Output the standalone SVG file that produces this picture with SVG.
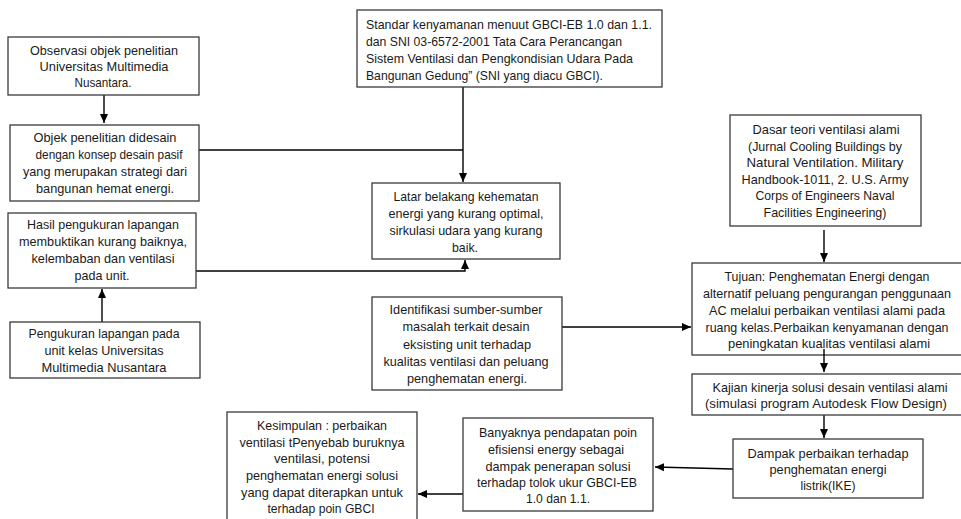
<svg xmlns="http://www.w3.org/2000/svg" width="961" height="519" viewBox="0 0 961 519">
<defs>
<style>
.box{fill:#fff;stroke:#3a3a3a;stroke-width:1.3}
.t{font-family:"Liberation Sans",Arial,sans-serif;font-size:13px;fill:#1a1a1a;text-anchor:middle}
.tl{font-family:"Liberation Sans",Arial,sans-serif;font-size:13px;fill:#1a1a1a;text-anchor:start}
.c{fill:none;stroke:#000;stroke-width:1.4}
</style>
<marker id="ah" markerUnits="userSpaceOnUse" markerWidth="10" markerHeight="10" viewBox="0 0 10 10" refX="9" refY="5" orient="auto">
<path d="M0,1 L9,5 L0,9 Z" fill="#000"/>
</marker>
</defs>
<rect width="961" height="519" fill="#fff"/>

<g id="connectors">
<path class="c" d="M104,95 V123" marker-end="url(#ah)"/>
<path class="c" d="M463,87 V182" marker-end="url(#ah)"/>
<path class="c" d="M199,150 H463"/>
<path class="c" d="M196,271 H465 V260" marker-end="url(#ah)"/>
<path class="c" d="M102,322 V289" marker-end="url(#ah)"/>
<path class="c" d="M562,327 H691" marker-end="url(#ah)"/>
<path class="c" d="M824,230 V262" marker-end="url(#ah)"/>
<path class="c" d="M824,415 V438" marker-end="url(#ah)"/>
<path class="c" d="M733,469 L655,467" marker-end="url(#ah)"/>
<path class="c" d="M463,494 H418" marker-end="url(#ah)"/>
</g>

<g id="n-observasi">
<rect class="box" x="8" y="37" width="191" height="58"/>
<text class="t" x="104" y="55" textLength="148" lengthAdjust="spacingAndGlyphs">Observasi objek penelitian</text>
<text class="t" x="104" y="71" textLength="129" lengthAdjust="spacingAndGlyphs">Universitas Multimedia</text>
<text class="t" x="103" y="87" textLength="57" lengthAdjust="spacingAndGlyphs">Nusantara.</text>
</g>

<g id="n-objek">
<rect class="box" x="10" y="125" width="189" height="76"/>
<text class="t" x="105" y="142" textLength="143" lengthAdjust="spacingAndGlyphs">Objek penelitian didesain</text>
<text class="t" x="109" y="159" textLength="147" lengthAdjust="spacingAndGlyphs">dengan konsep desain pasif</text>
<text class="t" x="105" y="176" textLength="164" lengthAdjust="spacingAndGlyphs">yang merupakan strategi dari</text>
<text class="t" x="105" y="193" textLength="138" lengthAdjust="spacingAndGlyphs">bangunan hemat energi.</text>
</g>

<g id="n-hasil">
<rect class="box" x="8" y="213" width="188" height="75"/>
<text class="t" x="103" y="229" textLength="152" lengthAdjust="spacingAndGlyphs">Hasil pengukuran lapangan</text>
<text class="t" x="103" y="246" textLength="168" lengthAdjust="spacingAndGlyphs">membuktikan kurang baiknya,</text>
<text class="t" x="103" y="263" textLength="143" lengthAdjust="spacingAndGlyphs">kelembaban dan ventilasi</text>
<text class="t" x="102" y="280" textLength="55" lengthAdjust="spacingAndGlyphs">pada unit.</text>
</g>

<g id="n-pengukuran">
<rect class="box" x="10" y="322" width="190" height="56"/>
<text class="t" x="104" y="338" textLength="151" lengthAdjust="spacingAndGlyphs">Pengukuran lapangan pada</text>
<text class="t" x="104" y="355" textLength="119" lengthAdjust="spacingAndGlyphs">unit kelas Universitas</text>
<text class="t" x="104" y="372" textLength="125" lengthAdjust="spacingAndGlyphs">Multimedia Nusantara</text>
</g>

<g id="n-standar">
<rect class="box" x="357" y="10" width="305" height="77"/>
<text class="tl" x="366" y="29" textLength="286" lengthAdjust="spacingAndGlyphs">Standar kenyamanan menuut GBCI-EB 1.0 dan 1.1.</text>
<text class="tl" x="366" y="46" textLength="256" lengthAdjust="spacingAndGlyphs">dan SNI 03-6572-2001 Tata Cara Perancangan</text>
<text class="tl" x="366" y="63" textLength="267" lengthAdjust="spacingAndGlyphs">Sistem Ventilasi dan Pengkondisian Udara Pada</text>
<text class="tl" x="366" y="80" textLength="237" lengthAdjust="spacingAndGlyphs">Bangunan Gedung” (SNI yang diacu GBCI).</text>
</g>

<g id="n-latar">
<rect class="box" x="372" y="183" width="188" height="76"/>
<text class="t" x="466" y="201" textLength="145" lengthAdjust="spacingAndGlyphs">Latar belakang kehematan</text>
<text class="t" x="466" y="218" textLength="155" lengthAdjust="spacingAndGlyphs">energi yang kurang optimal,</text>
<text class="t" x="466" y="235" textLength="153" lengthAdjust="spacingAndGlyphs">sirkulasi udara yang kurang</text>
<text class="t" x="465" y="252" textLength="26" lengthAdjust="spacingAndGlyphs">baik.</text>
</g>

<g id="n-identifikasi">
<rect class="box" x="372" y="297" width="190" height="93"/>
<text class="t" x="466" y="314" textLength="153" lengthAdjust="spacingAndGlyphs">Identifikasi sumber-sumber</text>
<text class="t" x="466" y="331" textLength="127" lengthAdjust="spacingAndGlyphs">masalah terkait desain</text>
<text class="t" x="467" y="349" textLength="128" lengthAdjust="spacingAndGlyphs">eksisting unit terhadap</text>
<text class="t" x="466" y="366" textLength="165" lengthAdjust="spacingAndGlyphs">kualitas ventilasi dan peluang</text>
<text class="t" x="467" y="383" textLength="120" lengthAdjust="spacingAndGlyphs">penghematan energi.</text>
</g>

<g id="n-dasar">
<rect class="box" x="730" y="115" width="191" height="111"/>
<text class="t" x="826" y="134" textLength="147" lengthAdjust="spacingAndGlyphs">Dasar teori ventilasi alami</text>
<text class="t" x="825" y="151" textLength="154" lengthAdjust="spacingAndGlyphs">(Jurnal Cooling Buildings by</text>
<text class="t" x="825" y="167" textLength="157" lengthAdjust="spacingAndGlyphs">Natural Ventilation. Military</text>
<text class="t" x="825" y="184" textLength="167" lengthAdjust="spacingAndGlyphs">Handbook-1011, 2. U.S. Army</text>
<text class="t" x="825" y="200" textLength="139" lengthAdjust="spacingAndGlyphs">Corps of Engineers Naval</text>
<text class="t" x="825" y="217" textLength="123" lengthAdjust="spacingAndGlyphs">Facilities Engineering)</text>
</g>

<g id="n-tujuan">
<rect class="box" x="692" y="263" width="280" height="92"/>
<text class="t" x="827" y="281" textLength="205" lengthAdjust="spacingAndGlyphs">Tujuan: Penghematan Energi dengan</text>
<text class="t" x="827" y="298" textLength="248" lengthAdjust="spacingAndGlyphs">alternatif peluang pengurangan penggunaan</text>
<text class="t" x="827" y="315" textLength="236" lengthAdjust="spacingAndGlyphs">AC melalui perbaikan ventilasi alami pada</text>
<text class="t" x="827" y="332" textLength="243" lengthAdjust="spacingAndGlyphs">ruang kelas.Perbaikan kenyamanan dengan</text>
<text class="t" x="829" y="348" textLength="202" lengthAdjust="spacingAndGlyphs">peningkatan kualitas ventilasi alami</text>
</g>

<g id="n-kajian">
<rect class="box" x="692" y="374" width="280" height="41"/>
<text class="t" x="830" y="392" textLength="235" lengthAdjust="spacingAndGlyphs">Kajian kinerja solusi desain ventilasi alami</text>
<text class="t" x="826" y="408" textLength="242" lengthAdjust="spacingAndGlyphs">(simulasi program Autodesk Flow Design)</text>
</g>

<g id="n-dampak">
<rect class="box" x="733" y="439" width="190" height="59"/>
<text class="t" x="828" y="458" textLength="161" lengthAdjust="spacingAndGlyphs">Dampak perbaikan terhadap</text>
<text class="t" x="828" y="474" textLength="117" lengthAdjust="spacingAndGlyphs">penghematan energi</text>
<text class="t" x="828" y="490" textLength="55" lengthAdjust="spacingAndGlyphs">listrik(IKE)</text>
</g>

<g id="n-banyaknya">
<rect class="box" x="463" y="418" width="190" height="93"/>
<text class="t" x="558" y="437" textLength="158" lengthAdjust="spacingAndGlyphs">Banyaknya pendapatan poin</text>
<text class="t" x="556" y="454" textLength="136" lengthAdjust="spacingAndGlyphs">efisiensi energy sebagai</text>
<text class="t" x="558" y="471" textLength="145" lengthAdjust="spacingAndGlyphs">dampak penerapan solusi</text>
<text class="t" x="557" y="487" textLength="160" lengthAdjust="spacingAndGlyphs">terhadap tolok ukur GBCI-EB</text>
<text class="t" x="558" y="503" textLength="64" lengthAdjust="spacingAndGlyphs">1.0 dan 1.1.</text>
</g>

<g id="n-kesimpulan">
<rect class="box" x="227" y="412" width="190" height="120"/>
<text class="t" x="322" y="430" textLength="130" lengthAdjust="spacingAndGlyphs">Kesimpulan : perbaikan</text>
<text class="t" x="322" y="447" textLength="165" lengthAdjust="spacingAndGlyphs">ventilasi tPenyebab buruknya</text>
<text class="t" x="322" y="463" textLength="96" lengthAdjust="spacingAndGlyphs">ventilasi, potensi</text>
<text class="t" x="322" y="480" textLength="152" lengthAdjust="spacingAndGlyphs">penghematan energi solusi</text>
<text class="t" x="322" y="497" textLength="162" lengthAdjust="spacingAndGlyphs">yang dapat diterapkan untuk</text>
<text class="t" x="321" y="513" textLength="107" lengthAdjust="spacingAndGlyphs">terhadap poin GBCI</text>
</g>

<g id="connectors-over">
<path class="c" d="M824,349 V372" marker-end="url(#ah)"/>
</g>
</svg>
